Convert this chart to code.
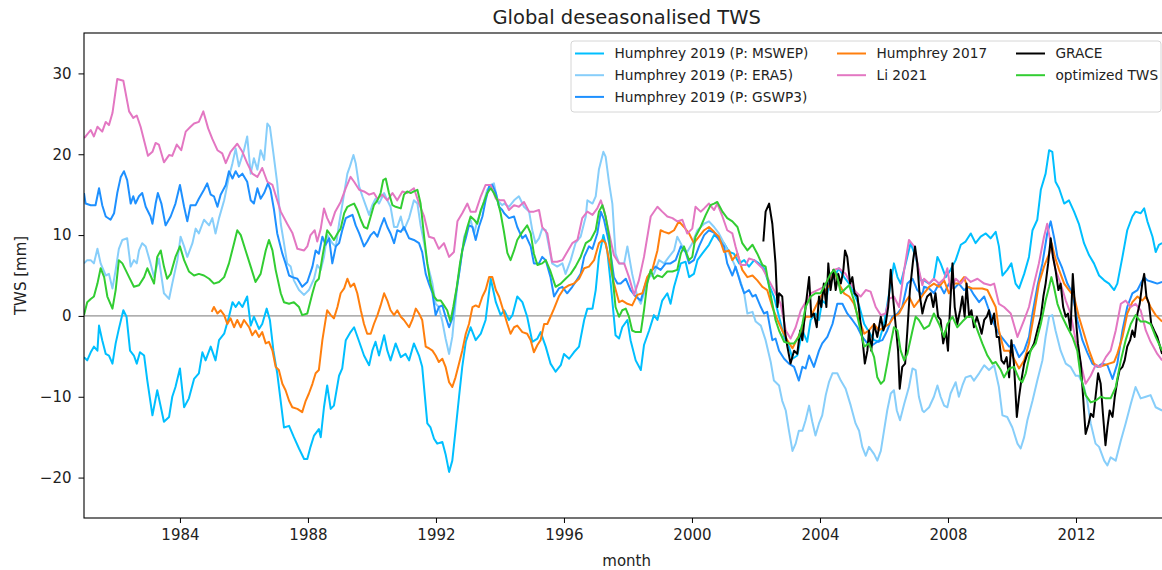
<!DOCTYPE html>
<html>
<head>
<meta charset="utf-8">
<script src="https://cdn.jsdelivr.net/npm/d3@7"></script>
<style>
  body { margin: 0; background: #fff; }
  svg { display: block; font-family: 'DejaVu Sans', sans-serif; }
</style>
</head>
<body>
<div id="wrapper"></div>
<script>
// values: [decimal year, TWS mm]
const mswep = [[1981.0,-5.1],[1981.1,-5.5],[1981.21,-4.5],[1981.31,-3.8],[1981.42,-4.3],[1981.47,-1.2],[1981.57,-3.0],[1981.68,-4.7],[1981.78,-4.9],[1981.89,-5.9],[1981.99,-3.4],[1982.09,-1.6],[1982.23,0.7],[1982.33,-0.1],[1982.44,-4.3],[1982.56,-4.9],[1982.65,-5.9],[1982.75,-4.5],[1982.88,-4.9],[1982.98,-8.0],[1983.14,-12.3],[1983.29,-9.2],[1983.5,-13.1],[1983.66,-12.5],[1983.76,-10.0],[1983.86,-8.8],[1984.0,-6.5],[1984.13,-11.3],[1984.28,-10.2],[1984.44,-7.8],[1984.59,-7.1],[1984.7,-4.5],[1984.8,-5.5],[1984.96,-3.8],[1985.11,-5.5],[1985.22,-3.0],[1985.38,-2.2],[1985.53,-0.1],[1985.64,1.7],[1985.74,1.1],[1985.84,1.7],[1985.95,1.1],[1986.1,2.4],[1986.21,-1.2],[1986.31,-0.1],[1986.47,-1.6],[1986.57,-1.0],[1986.71,0.9],[1986.81,-0.5],[1986.92,-4.3],[1987.04,-7.1],[1987.25,-13.8],[1987.41,-13.6],[1987.56,-15.0],[1987.72,-16.4],[1987.88,-17.7],[1987.98,-17.7],[1988.08,-16.2],[1988.19,-14.8],[1988.34,-14.0],[1988.4,-15.0],[1988.5,-11.3],[1988.6,-8.6],[1988.71,-11.5],[1988.81,-11.1],[1988.97,-7.4],[1989.07,-6.5],[1989.18,-3.0],[1989.33,-2.0],[1989.44,-1.4],[1989.6,-3.2],[1989.75,-4.9],[1989.91,-6.1],[1990.01,-4.3],[1990.11,-3.2],[1990.22,-4.9],[1990.38,-2.4],[1990.48,-4.3],[1990.58,-5.5],[1990.74,-3.4],[1990.9,-5.1],[1991.05,-4.7],[1991.16,-5.5],[1991.31,-3.4],[1991.47,-4.9],[1991.57,-6.3],[1991.73,-13.3],[1991.83,-13.8],[1991.94,-15.2],[1992.04,-15.8],[1992.2,-15.6],[1992.3,-17.1],[1992.41,-19.3],[1992.51,-17.9],[1992.61,-14.2],[1992.72,-10.0],[1992.82,-6.3],[1992.93,-3.2],[1993.08,-1.4],[1993.24,-3.0],[1993.4,-2.2],[1993.55,-0.5],[1993.71,4.6],[1993.87,1.7],[1994.02,0.1],[1994.13,0.7],[1994.28,-0.5],[1994.39,0.1],[1994.54,2.4],[1994.7,1.7],[1994.85,-0.1],[1995.01,-3.2],[1995.17,-2.8],[1995.27,-2.0],[1995.43,-3.8],[1995.58,-5.9],[1995.74,-6.9],[1995.9,-6.1],[1996.0,-4.7],[1996.16,-5.3],[1996.31,-4.5],[1996.47,-3.8],[1996.63,-0.5],[1996.73,0.9],[1996.89,0.9],[1996.99,3.2],[1997.09,7.3],[1997.23,10.0],[1997.35,8.1],[1997.46,4.0],[1997.61,-2.4],[1997.72,-2.8],[1997.82,-1.4],[1997.98,-0.5],[1998.08,-3.0],[1998.24,-5.5],[1998.4,-6.7],[1998.5,-3.6],[1998.66,-1.8],[1998.81,0.1],[1998.92,-0.5],[1999.07,1.9],[1999.23,2.8],[1999.33,1.5],[1999.44,3.6],[1999.54,5.0],[1999.65,6.5],[1999.8,6.7],[1999.91,4.8],[2000.06,5.2],[2000.17,6.9],[2000.32,7.7],[2000.53,8.8],[2000.69,10.0],[2000.84,9.6],[2001.0,9.0],[2001.16,7.9],[2001.31,7.7],[2001.47,6.5],[2001.63,6.9],[2001.78,6.1],[2001.94,6.9],[2002.09,6.5],[2002.25,5.9],[2002.41,3.8],[2002.56,2.4],[2002.72,-0.1],[2002.88,-2.6],[2003.03,-3.8],[2003.14,-5.3],[2003.29,-4.9],[2003.45,-1.8],[2003.6,-3.2],[2003.71,-0.5],[2003.86,0.3],[2003.97,-0.5],[2004.07,1.9],[2004.18,1.5],[2004.28,4.0],[2004.44,4.8],[2004.59,5.9],[2004.75,4.8],[2004.91,4.0],[2005.06,2.8],[2005.22,1.3],[2005.38,-1.0],[2005.53,-2.0],[2005.69,-3.0],[2005.84,-3.2],[2006.0,-1.0],[2006.16,2.8],[2006.31,6.5],[2006.42,4.8],[2006.52,4.0],[2006.68,6.5],[2006.83,9.0],[2006.99,7.3],[2007.15,4.4],[2007.25,4.4],[2007.41,4.0],[2007.56,4.6],[2007.67,7.3],[2007.77,6.5],[2007.93,4.8],[2008.08,5.7],[2008.24,6.9],[2008.4,8.8],[2008.55,9.2],[2008.71,10.2],[2008.86,9.0],[2009.02,9.8],[2009.18,10.2],[2009.33,9.6],[2009.49,10.4],[2009.59,8.6],[2009.7,5.0],[2009.85,5.7],[2009.98,6.5],[2010.11,4.0],[2010.22,3.4],[2010.38,5.2],[2010.53,7.3],[2010.64,10.6],[2010.79,11.9],[2010.9,15.6],[2011.05,17.6],[2011.16,20.5],[2011.26,20.3],[2011.36,16.6],[2011.47,15.8],[2011.63,13.9],[2011.78,14.3],[2011.94,12.9],[2012.09,11.4],[2012.25,9.0],[2012.41,7.5],[2012.56,6.5],[2012.72,5.0],[2012.88,4.4],[2013.03,4.0],[2013.19,3.2],[2013.29,4.0],[2013.45,7.3],[2013.6,10.6],[2013.76,12.3],[2013.86,12.9],[2014.02,12.7],[2014.13,13.3],[2014.23,11.7],[2014.39,9.8],[2014.49,7.9],[2014.59,8.8],[2014.69,9.0]];

const era5 = [[1981.0,6.5],[1981.1,6.9],[1981.21,6.9],[1981.31,6.5],[1981.42,8.3],[1981.52,6.5],[1981.68,5.0],[1981.78,5.2],[1981.89,3.4],[1981.99,5.7],[1982.09,8.3],[1982.2,9.4],[1982.35,9.6],[1982.46,6.1],[1982.56,6.9],[1982.65,6.5],[1982.72,8.1],[1982.82,9.0],[1982.93,8.6],[1983.08,6.5],[1983.19,4.8],[1983.34,7.1],[1983.5,2.8],[1983.66,2.1],[1983.76,4.0],[1983.92,6.9],[1984.02,9.8],[1984.13,8.6],[1984.23,7.3],[1984.39,9.0],[1984.49,10.8],[1984.59,10.2],[1984.75,11.9],[1984.91,11.2],[1985.01,12.1],[1985.11,10.2],[1985.22,12.1],[1985.38,14.3],[1985.53,17.2],[1985.64,18.9],[1985.74,20.7],[1985.84,18.5],[1986.0,20.5],[1986.1,22.2],[1986.21,17.6],[1986.31,19.5],[1986.42,18.1],[1986.52,20.5],[1986.63,19.3],[1986.73,23.8],[1986.81,23.4],[1986.92,20.1],[1987.04,16.4],[1987.15,11.4],[1987.25,9.0],[1987.35,6.5],[1987.46,6.1],[1987.56,4.4],[1987.72,3.2],[1987.88,2.6],[1988.03,3.2],[1988.19,4.6],[1988.29,6.3],[1988.4,5.7],[1988.5,7.3],[1988.6,10.0],[1988.76,9.0],[1988.87,8.6],[1988.97,11.4],[1989.07,13.7],[1989.23,17.6],[1989.31,18.5],[1989.42,19.9],[1989.49,18.9],[1989.6,16.0],[1989.7,14.8],[1989.8,13.7],[1989.91,12.5],[1990.01,13.7],[1990.11,14.5],[1990.22,13.9],[1990.38,15.2],[1990.48,14.3],[1990.58,13.5],[1990.69,11.0],[1990.79,11.0],[1990.9,12.3],[1991.0,10.6],[1991.16,12.1],[1991.31,14.3],[1991.42,13.9],[1991.52,11.2],[1991.63,9.0],[1991.73,6.5],[1991.89,4.0],[1991.99,1.5],[1992.09,1.1],[1992.2,-0.7],[1992.3,-2.8],[1992.41,-4.7],[1992.51,-2.6],[1992.56,-0.5],[1992.67,4.0],[1992.77,6.5],[1992.88,9.8],[1992.98,10.8],[1993.08,11.9],[1993.19,10.2],[1993.29,11.7],[1993.45,13.5],[1993.6,15.6],[1993.71,16.2],[1993.81,16.4],[1993.92,14.3],[1994.07,13.7],[1994.13,13.9],[1994.28,13.5],[1994.44,14.3],[1994.59,14.8],[1994.75,13.5],[1994.91,12.9],[1995.01,10.6],[1995.11,9.0],[1995.22,9.6],[1995.32,10.8],[1995.43,10.6],[1995.53,8.6],[1995.63,6.5],[1995.79,6.1],[1995.95,6.5],[1996.05,5.2],[1996.21,6.9],[1996.36,9.0],[1996.52,9.8],[1996.68,12.3],[1996.73,14.3],[1996.89,13.9],[1996.99,14.8],[1997.09,18.1],[1997.23,20.3],[1997.3,19.7],[1997.41,16.4],[1997.51,13.9],[1997.61,7.7],[1997.72,6.5],[1997.88,6.5],[1997.98,8.6],[1998.13,5.2],[1998.29,2.4],[1998.4,1.5],[1998.5,2.8],[1998.66,4.8],[1998.81,5.2],[1998.97,6.9],[1999.13,6.5],[1999.28,7.3],[1999.44,8.1],[1999.54,9.8],[1999.7,8.6],[1999.85,7.9],[2000.01,9.0],[2000.17,10.6],[2000.38,11.4],[2000.53,11.7],[2000.69,11.0],[2000.84,10.2],[2001.0,9.0],[2001.16,7.7],[2001.31,6.5],[2001.47,4.8],[2001.63,2.8],[2001.73,0.3],[2001.89,0.5],[2001.99,-0.7],[2002.15,-1.2],[2002.3,-3.0],[2002.46,-5.7],[2002.56,-8.0],[2002.72,-8.6],[2002.82,-10.5],[2002.93,-11.7],[2003.03,-14.2],[2003.14,-16.7],[2003.24,-15.8],[2003.34,-14.2],[2003.45,-14.2],[2003.55,-12.9],[2003.66,-11.1],[2003.76,-13.1],[2003.86,-14.8],[2003.97,-13.3],[2004.07,-12.3],[2004.18,-9.8],[2004.28,-8.2],[2004.39,-7.1],[2004.54,-7.1],[2004.65,-8.0],[2004.8,-9.0],[2004.96,-11.1],[2005.11,-13.3],[2005.22,-14.2],[2005.32,-16.2],[2005.43,-17.3],[2005.53,-16.2],[2005.69,-17.1],[2005.79,-17.9],[2005.9,-16.7],[2006.0,-14.2],[2006.1,-11.7],[2006.21,-9.6],[2006.31,-9.2],[2006.4,-11.7],[2006.5,-12.9],[2006.63,-10.9],[2006.78,-8.8],[2006.89,-6.5],[2006.99,-6.7],[2007.09,-10.0],[2007.2,-11.7],[2007.25,-11.9],[2007.41,-11.3],[2007.56,-10.0],[2007.67,-8.6],[2007.77,-10.0],[2007.88,-11.1],[2007.98,-11.3],[2008.08,-9.6],[2008.24,-8.2],[2008.34,-10.0],[2008.45,-8.6],[2008.55,-7.6],[2008.71,-7.4],[2008.81,-8.0],[2008.97,-7.1],[2009.13,-6.1],[2009.28,-6.7],[2009.44,-6.1],[2009.59,-8.8],[2009.7,-12.3],[2009.85,-12.5],[2010.01,-13.8],[2010.17,-15.8],[2010.27,-16.4],[2010.38,-15.0],[2010.48,-12.9],[2010.64,-10.5],[2010.79,-8.0],[2010.95,-5.5],[2011.05,-2.6],[2011.16,-0.1],[2011.26,0.1],[2011.36,-1.8],[2011.52,-4.3],[2011.68,-5.9],[2011.83,-6.3],[2011.99,-7.4],[2012.09,-7.4],[2012.25,-8.8],[2012.35,-10.5],[2012.46,-13.3],[2012.61,-15.8],[2012.72,-16.2],[2012.88,-17.9],[2012.98,-18.5],[2013.08,-17.5],[2013.24,-17.9],[2013.4,-15.4],[2013.55,-13.3],[2013.71,-10.9],[2013.86,-8.8],[2014.02,-10.2],[2014.18,-10.0],[2014.33,-9.8],[2014.49,-11.3],[2014.69,-11.7]];

const gswp3 = [[1981.0,15.2],[1981.05,13.9],[1981.21,13.7],[1981.36,13.7],[1981.47,15.8],[1981.57,13.7],[1981.68,12.3],[1981.83,11.9],[1981.94,12.7],[1982.04,15.2],[1982.15,17.2],[1982.25,17.9],[1982.35,16.8],[1982.46,13.9],[1982.54,14.8],[1982.61,13.9],[1982.72,14.8],[1982.82,15.2],[1982.93,13.5],[1983.08,12.3],[1983.14,11.4],[1983.24,13.9],[1983.31,15.2],[1983.42,13.9],[1983.55,11.2],[1983.71,12.3],[1983.86,13.9],[1984.0,16.2],[1984.13,13.5],[1984.23,11.7],[1984.33,13.7],[1984.49,13.7],[1984.59,14.5],[1984.75,15.6],[1984.85,16.4],[1984.96,15.0],[1985.06,14.8],[1985.17,13.5],[1985.27,15.0],[1985.43,16.2],[1985.53,17.9],[1985.64,17.0],[1985.74,17.9],[1985.84,17.2],[1985.95,17.6],[1986.1,16.6],[1986.21,14.3],[1986.31,13.9],[1986.42,15.8],[1986.52,14.5],[1986.63,15.2],[1986.75,16.4],[1986.83,15.6],[1986.94,13.1],[1987.04,10.2],[1987.2,7.7],[1987.3,6.5],[1987.41,5.0],[1987.51,4.8],[1987.67,4.6],[1987.82,3.6],[1987.98,4.2],[1988.14,6.1],[1988.24,8.1],[1988.34,7.7],[1988.45,9.8],[1988.55,8.8],[1988.66,9.6],[1988.76,6.5],[1988.87,8.6],[1988.97,9.0],[1989.07,10.6],[1989.18,12.1],[1989.28,12.3],[1989.39,12.5],[1989.49,11.2],[1989.6,10.2],[1989.75,8.6],[1989.85,9.2],[1989.96,10.0],[1990.06,10.4],[1990.17,9.8],[1990.27,11.0],[1990.38,12.1],[1990.48,11.0],[1990.58,10.2],[1990.69,9.0],[1990.79,10.6],[1990.9,10.4],[1991.0,11.0],[1991.16,9.6],[1991.31,9.4],[1991.47,9.0],[1991.57,7.9],[1991.68,5.2],[1991.78,4.0],[1991.89,2.8],[1991.99,0.1],[1992.09,1.1],[1992.2,1.3],[1992.3,-0.1],[1992.41,-1.4],[1992.51,-0.3],[1992.61,2.4],[1992.72,5.2],[1992.82,8.1],[1992.93,9.6],[1993.03,11.2],[1993.14,11.0],[1993.24,9.4],[1993.34,11.0],[1993.45,12.3],[1993.55,14.3],[1993.66,16.0],[1993.76,16.2],[1993.87,15.2],[1993.97,13.5],[1994.07,13.1],[1994.13,12.7],[1994.28,12.1],[1994.44,12.3],[1994.54,11.0],[1994.7,9.6],[1994.8,10.0],[1994.96,8.6],[1995.06,6.5],[1995.22,6.5],[1995.32,7.3],[1995.43,6.9],[1995.58,4.8],[1995.69,2.4],[1995.84,3.4],[1995.95,3.6],[1996.1,2.8],[1996.26,3.6],[1996.36,4.2],[1996.52,5.2],[1996.63,7.3],[1996.78,8.6],[1996.89,8.3],[1997.04,10.2],[1997.15,12.9],[1997.25,11.9],[1997.41,9.0],[1997.56,4.8],[1997.67,4.0],[1997.77,4.0],[1997.93,4.6],[1998.08,3.2],[1998.24,2.4],[1998.4,1.9],[1998.55,4.0],[1998.71,5.5],[1998.86,6.1],[1999.02,5.7],[1999.18,6.5],[1999.33,6.5],[1999.49,6.9],[1999.65,8.6],[1999.8,7.9],[1999.91,6.5],[2000.06,6.9],[2000.22,8.6],[2000.38,10.0],[2000.53,10.6],[2000.69,10.3],[2000.84,9.4],[2001.0,8.6],[2001.1,6.5],[2001.26,5.0],[2001.36,6.1],[2001.52,4.0],[2001.63,2.8],[2001.78,3.2],[2001.89,2.4],[2001.99,2.6],[2002.15,1.1],[2002.25,0.3],[2002.35,0.5],[2002.51,-3.0],[2002.61,-2.8],[2002.72,-4.3],[2002.88,-5.3],[2003.03,-5.9],[2003.19,-6.3],[2003.34,-8.0],[2003.45,-6.3],[2003.55,-6.5],[2003.66,-4.9],[2003.81,-6.3],[2003.97,-4.3],[2004.07,-3.4],[2004.23,-2.6],[2004.39,-1.0],[2004.54,1.5],[2004.7,1.5],[2004.85,0.3],[2005.01,-0.5],[2005.17,-1.4],[2005.32,-2.6],[2005.48,-3.4],[2005.64,-3.6],[2005.79,-3.2],[2005.95,-3.0],[2006.1,-1.8],[2006.26,-0.1],[2006.42,0.3],[2006.57,1.1],[2006.73,4.0],[2006.89,4.6],[2007.04,3.2],[2007.2,2.6],[2007.25,3.6],[2007.41,3.4],[2007.56,2.8],[2007.72,4.0],[2007.88,2.8],[2008.03,4.0],[2008.19,3.4],[2008.34,4.0],[2008.5,3.2],[2008.66,3.6],[2008.81,2.6],[2008.97,1.7],[2009.13,2.4],[2009.28,0.7],[2009.44,-1.0],[2009.59,-2.2],[2009.75,-3.0],[2009.91,-3.8],[2010.06,-3.6],[2010.22,-5.1],[2010.38,-4.3],[2010.53,-2.6],[2010.64,0.3],[2010.79,3.6],[2010.95,6.5],[2011.1,10.2],[2011.21,11.7],[2011.31,9.8],[2011.42,7.3],[2011.57,5.9],[2011.73,4.0],[2011.89,2.8],[2012.04,-0.5],[2012.2,-3.0],[2012.35,-4.5],[2012.51,-5.9],[2012.67,-6.3],[2012.82,-5.9],[2012.98,-6.1],[2013.14,-7.8],[2013.29,-5.9],[2013.45,-1.8],[2013.6,1.1],[2013.76,2.8],[2013.92,3.2],[2014.02,4.0],[2014.13,4.8],[2014.23,4.4],[2014.39,4.2],[2014.54,4.0],[2014.69,4.2]];

const humphrey2017 = [[1984.99,0.5],[1985.06,1.1],[1985.17,0.3],[1985.27,0.7],[1985.38,0.1],[1985.48,-1.0],[1985.58,-0.3],[1985.69,-1.4],[1985.79,-0.5],[1985.9,-1.4],[1986.0,-0.5],[1986.16,-1.4],[1986.26,-2.4],[1986.36,-1.8],[1986.47,-2.6],[1986.57,-2.0],[1986.68,-3.4],[1986.78,-3.2],[1986.89,-4.3],[1986.99,-6.3],[1987.09,-6.7],[1987.2,-8.4],[1987.3,-9.2],[1987.41,-10.5],[1987.51,-11.3],[1987.67,-11.5],[1987.82,-11.9],[1987.93,-10.5],[1988.03,-9.6],[1988.14,-8.4],[1988.24,-7.1],[1988.34,-6.7],[1988.45,-3.0],[1988.55,-0.5],[1988.6,0.7],[1988.71,0.1],[1988.81,-0.3],[1988.92,1.1],[1989.02,2.8],[1989.13,3.4],[1989.23,4.6],[1989.33,3.6],[1989.44,4.0],[1989.54,2.8],[1989.65,0.7],[1989.75,-1.0],[1989.85,-2.2],[1989.96,-2.2],[1990.06,-1.0],[1990.17,0.1],[1990.27,1.3],[1990.38,2.8],[1990.48,1.9],[1990.58,0.7],[1990.69,0.1],[1990.79,0.7],[1990.9,-0.1],[1991.0,-0.5],[1991.16,-1.4],[1991.26,-0.5],[1991.37,0.9],[1991.47,0.3],[1991.57,-0.5],[1991.68,-3.8],[1991.78,-4.0],[1991.89,-4.3],[1991.99,-4.9],[1992.09,-5.7],[1992.2,-5.3],[1992.3,-6.3],[1992.41,-8.2],[1992.51,-8.8],[1992.61,-7.6],[1992.72,-5.9],[1992.82,-4.3],[1992.93,-2.2],[1993.03,-1.0],[1993.14,1.1],[1993.24,1.3],[1993.34,1.1],[1993.45,2.4],[1993.55,3.2],[1993.66,4.8],[1993.76,4.8],[1993.87,3.2],[1993.97,2.4],[1994.07,1.1],[1994.23,-1.0],[1994.33,-2.2],[1994.44,-1.4],[1994.54,-1.2],[1994.7,-2.0],[1994.85,-2.2],[1994.96,-3.0],[1995.06,-4.5],[1995.17,-3.6],[1995.27,-3.0],[1995.38,-1.0],[1995.48,-1.0],[1995.58,-0.1],[1995.69,0.9],[1995.84,2.4],[1996.0,3.4],[1996.16,3.8],[1996.31,4.0],[1996.47,4.6],[1996.63,5.9],[1996.78,6.1],[1996.94,6.9],[1997.09,9.0],[1997.2,9.4],[1997.3,9.0],[1997.41,6.9],[1997.56,4.0],[1997.72,1.7],[1997.82,1.9],[1997.98,1.5],[1998.13,1.3],[1998.29,2.6],[1998.45,2.8],[1998.6,4.8],[1998.76,5.7],[1998.92,8.1],[1999.02,10.6],[1999.13,10.4],[1999.28,10.2],[1999.44,10.6],[1999.59,11.7],[1999.75,11.0],[1999.91,10.2],[2000.06,9.0],[2000.22,9.8],[2000.38,10.6],[2000.53,11.0],[2000.69,10.4],[2000.84,9.8],[2001.0,7.9],[2001.16,8.1],[2001.26,6.9],[2001.42,7.7],[2001.57,5.7],[2001.73,4.8],[2001.89,5.0],[2002.04,4.4],[2002.2,3.6],[2002.35,3.2],[2002.51,1.1],[2002.67,-0.5],[2002.82,-1.8],[2002.98,-3.0],[2003.14,-4.0],[2003.24,-3.2],[2003.4,-2.0],[2003.55,-0.1],[2003.71,-0.1],[2003.86,1.1],[2004.02,2.4],[2004.18,3.2],[2004.33,4.0],[2004.44,5.7],[2004.59,4.0],[2004.75,2.8],[2004.91,2.4],[2005.06,1.5],[2005.22,-0.5],[2005.38,-2.2],[2005.53,-1.8],[2005.69,-1.0],[2005.84,-1.8],[2006.0,-1.4],[2006.16,-1.0],[2006.31,-0.1],[2006.47,0.3],[2006.63,1.5],[2006.78,2.4],[2006.94,1.1],[2007.09,1.9],[2007.25,2.8],[2007.41,3.6],[2007.56,4.0],[2007.72,3.6],[2007.88,4.4],[2008.03,2.8],[2008.19,4.0],[2008.34,4.0],[2008.5,4.8],[2008.6,3.6],[2008.76,3.4],[2008.92,3.4],[2009.07,3.4],[2009.23,3.2],[2009.39,1.9],[2009.49,1.1],[2009.59,-1.8],[2009.75,-4.3],[2009.91,-4.3],[2010.06,-5.3],[2010.22,-6.5],[2010.38,-5.5],[2010.53,-3.4],[2010.69,0.3],[2010.84,4.0],[2011.0,6.1],[2011.16,7.7],[2011.24,9.0],[2011.34,7.3],[2011.47,5.7],[2011.63,4.0],[2011.78,3.2],[2011.94,2.4],[2012.09,-0.1],[2012.25,-2.2],[2012.41,-4.3],[2012.56,-5.9],[2012.72,-6.3],[2012.88,-6.1],[2013.03,-5.9],[2013.19,-5.7],[2013.29,-4.7],[2013.45,-2.6],[2013.6,0.3],[2013.76,1.7],[2013.92,2.4],[2014.07,1.9],[2014.18,2.4],[2014.33,1.1],[2014.49,0.1],[2014.69,-0.7]];

const li2021 = [[1981.0,22.0],[1981.05,22.2],[1981.21,23.0],[1981.31,22.2],[1981.42,23.4],[1981.57,22.8],[1981.68,24.0],[1981.78,23.6],[1981.89,25.1],[1982.04,29.3],[1982.23,29.1],[1982.41,25.3],[1982.54,24.5],[1982.65,24.8],[1982.77,23.4],[1983.0,19.8],[1983.14,20.3],[1983.24,21.4],[1983.34,21.2],[1983.5,19.0],[1983.66,19.9],[1983.76,19.8],[1983.9,21.2],[1984.04,20.5],[1984.18,22.8],[1984.33,23.4],[1984.44,23.8],[1984.59,24.0],[1984.73,25.3],[1984.88,23.2],[1985.01,21.9],[1985.17,20.5],[1985.32,20.1],[1985.43,18.9],[1985.58,20.3],[1985.79,21.3],[1985.95,20.3],[1986.1,18.9],[1986.26,17.6],[1986.42,17.2],[1986.57,18.3],[1986.73,16.6],[1986.89,16.2],[1987.15,12.9],[1987.35,11.4],[1987.51,10.3],[1987.67,8.3],[1987.88,8.1],[1987.98,8.6],[1988.08,10.0],[1988.21,10.6],[1988.29,9.2],[1988.4,10.8],[1988.5,13.3],[1988.6,12.1],[1988.71,11.2],[1988.85,12.9],[1989.02,14.1],[1989.18,15.8],[1989.33,17.2],[1989.44,16.6],[1989.6,15.6],[1989.75,15.4],[1989.91,15.0],[1990.06,15.2],[1990.17,14.5],[1990.32,15.0],[1990.48,14.3],[1990.64,15.2],[1990.79,14.3],[1990.95,15.4],[1991.1,15.2],[1991.31,15.8],[1991.47,13.9],[1991.63,12.3],[1991.78,9.8],[1991.94,9.6],[1992.09,8.3],[1992.25,9.0],[1992.41,7.3],[1992.56,7.9],[1992.67,11.7],[1992.82,12.7],[1992.98,13.9],[1993.08,12.9],[1993.24,12.9],[1993.4,14.8],[1993.55,16.2],[1993.71,16.2],[1993.87,14.5],[1994.02,14.3],[1994.13,14.3],[1994.28,13.1],[1994.44,13.7],[1994.59,13.5],[1994.75,14.1],[1994.91,12.9],[1995.06,12.9],[1995.22,13.1],[1995.32,11.0],[1995.48,10.2],[1995.63,6.7],[1995.79,6.7],[1995.95,6.9],[1996.1,7.9],[1996.26,9.0],[1996.42,9.4],[1996.57,12.1],[1996.73,12.9],[1996.89,12.5],[1997.04,13.3],[1997.15,14.3],[1997.25,13.1],[1997.41,10.2],[1997.56,7.5],[1997.72,6.5],[1997.88,6.5],[1998.03,4.8],[1998.19,2.6],[1998.34,4.4],[1998.5,7.3],[1998.71,12.3],[1998.92,13.5],[1999.07,12.9],[1999.23,12.3],[1999.39,12.1],[1999.54,11.7],[1999.7,11.9],[1999.85,10.2],[2000.01,10.8],[2000.11,13.5],[2000.27,12.9],[2000.38,13.3],[2000.53,13.9],[2000.69,13.1],[2000.79,13.9],[2000.95,12.3],[2001.1,10.6],[2001.26,10.2],[2001.36,8.6],[2001.52,6.3],[2001.68,6.3],[2001.78,7.1],[2001.94,6.9],[2002.04,6.5],[2002.2,5.9],[2002.35,4.8],[2002.56,3.2],[2002.77,1.5],[2002.93,-1.8],[2003.08,-2.8],[2003.24,-1.4],[2003.4,0.7],[2003.55,1.7],[2003.71,2.8],[2003.92,3.2],[2004.13,3.6],[2004.28,4.6],[2004.44,5.7],[2004.59,5.9],[2004.8,5.2],[2004.96,4.0],[2005.11,3.0],[2005.27,2.4],[2005.43,3.2],[2005.58,3.0],[2005.74,1.1],[2005.9,0.1],[2006.05,0.3],[2006.16,2.1],[2006.31,2.4],[2006.47,1.1],[2006.63,5.7],[2006.78,9.4],[2006.94,8.6],[2007.09,5.7],[2007.2,3.8],[2007.25,4.6],[2007.41,4.0],[2007.56,4.6],[2007.72,4.0],[2007.88,4.6],[2007.98,5.9],[2008.08,3.2],[2008.24,4.6],[2008.4,4.0],[2008.55,4.8],[2008.71,4.2],[2008.92,4.6],[2009.13,4.0],[2009.33,3.8],[2009.44,4.0],[2009.59,1.5],[2009.75,1.1],[2009.96,0.3],[2010.17,-2.6],[2010.38,-0.5],[2010.53,1.1],[2010.69,4.0],[2010.84,6.5],[2011.0,9.8],[2011.1,11.4],[2011.21,9.0],[2011.36,5.7],[2011.52,4.0],[2011.68,1.9],[2011.83,0.3],[2011.99,-3.0],[2012.15,-5.9],[2012.3,-8.4],[2012.46,-7.4],[2012.61,-6.1],[2012.77,-6.3],[2012.93,-5.1],[2013.08,-4.3],[2013.24,-1.8],[2013.4,1.5],[2013.55,1.9],[2013.71,1.1],[2013.86,1.5],[2014.02,0.7],[2014.18,-1.8],[2014.33,-3.2],[2014.54,-4.7],[2014.69,-5.5]];

const grace = [[2002.23,9.2],[2002.3,12.9],[2002.41,13.9],[2002.51,11.4],[2002.61,6.5],[2002.67,1.1],[2002.72,2.8],[2002.82,2.4],[2002.9,-1.8],[2002.98,-3.8],[2003.08,-5.9],[2003.19,-4.3],[2003.29,-4.7],[2003.38,-1.8],[2003.45,-3.0],[2003.55,1.1],[2003.66,4.8],[2003.73,-0.1],[2003.81,0.3],[2003.9,-1.4],[2003.97,2.4],[2004.04,1.1],[2004.12,4.0],[2004.2,1.1],[2004.26,6.5],[2004.33,3.2],[2004.42,5.7],[2004.49,3.2],[2004.57,5.2],[2004.65,4.0],[2004.73,5.7],[2004.78,8.1],[2004.85,7.3],[2004.94,4.0],[2005.01,4.8],[2005.08,2.8],[2005.17,2.4],[2005.27,-1.0],[2005.34,-3.4],[2005.4,-5.9],[2005.48,-4.3],[2005.53,-1.8],[2005.6,-4.3],[2005.69,-1.0],[2005.79,-2.6],[2005.9,-0.1],[2005.98,-1.8],[2006.05,-1.0],[2006.13,1.1],[2006.21,5.7],[2006.28,2.4],[2006.36,-1.0],[2006.44,-4.3],[2006.49,-9.0],[2006.57,-6.3],[2006.66,-5.9],[2006.73,-1.8],[2006.81,3.2],[2006.91,6.9],[2006.97,8.6],[2007.04,6.5],[2007.11,2.8],[2007.2,0.3],[2007.27,1.5],[2007.35,2.4],[2007.46,2.8],[2007.54,1.1],[2007.61,2.8],[2007.69,-0.1],[2007.77,-0.5],[2007.85,-3.4],[2007.93,-1.8],[2008.0,-4.3],[2008.06,0.7],[2008.14,6.5],[2008.21,1.1],[2008.29,-1.0],[2008.38,0.7],[2008.45,2.4],[2008.52,-0.1],[2008.58,4.0],[2008.66,-0.1],[2008.73,0.7],[2008.81,-1.4],[2008.9,-0.1],[2008.97,-1.0],[2009.05,-2.2],[2009.13,-0.5],[2009.21,-0.1],[2009.28,0.7],[2009.35,-1.0],[2009.44,0.3],[2009.52,-2.6],[2009.59,-2.6],[2009.67,-5.5],[2009.75,-5.9],[2009.83,-5.1],[2009.91,-7.6],[2009.98,-3.0],[2010.06,-5.9],[2010.15,-12.5],[2010.22,-10.0],[2010.29,-8.0],[2010.38,-5.9],[2010.48,-4.7],[2010.58,-4.3],[2010.69,-3.4],[2010.79,-1.8],[2010.9,-0.1],[2010.98,2.4],[2011.05,4.0],[2011.13,6.5],[2011.21,9.6],[2011.28,7.3],[2011.36,5.7],[2011.45,3.2],[2011.52,4.0],[2011.6,1.1],[2011.68,-0.1],[2011.75,0.3],[2011.83,-1.8],[2011.9,5.2],[2011.99,-0.1],[2012.06,-3.4],[2012.15,-5.9],[2012.23,-10.5],[2012.3,-14.6],[2012.39,-13.4],[2012.46,-12.1],[2012.54,-12.5],[2012.61,-10.0],[2012.69,-7.1],[2012.77,-8.4],[2012.84,-12.1],[2012.92,-16.0],[2012.98,-13.8],[2013.05,-11.7],[2013.14,-12.5],[2013.21,-10.0],[2013.29,-8.0],[2013.36,-6.7],[2013.45,-6.3],[2013.52,-5.5],[2013.6,-3.8],[2013.69,-3.0],[2013.76,-1.8],[2013.83,-2.6],[2013.92,0.3],[2013.99,1.5],[2014.07,4.0],[2014.13,5.2],[2014.2,2.4],[2014.28,1.5],[2014.35,-1.0],[2014.44,-1.8],[2014.54,-2.6],[2014.69,-4.7]];

const optimizedTws = [[1981.0,0.1],[1981.1,1.7],[1981.21,2.1],[1981.31,2.4],[1981.42,4.0],[1981.52,5.9],[1981.63,4.8],[1981.73,2.4],[1981.89,0.9],[1981.99,3.2],[1982.09,6.9],[1982.2,6.5],[1982.3,5.7],[1982.41,4.8],[1982.56,3.6],[1982.72,3.8],[1982.88,4.8],[1982.98,5.9],[1983.08,5.0],[1983.19,4.0],[1983.29,7.3],[1983.4,8.1],[1983.5,6.1],[1983.6,4.6],[1983.71,5.2],[1983.86,7.3],[1984.0,8.6],[1984.13,6.9],[1984.28,5.5],[1984.44,5.0],[1984.59,5.2],[1984.75,5.0],[1984.91,4.6],[1985.06,4.0],[1985.22,4.2],[1985.38,4.8],[1985.53,6.5],[1985.69,9.0],[1985.79,10.6],[1985.9,10.0],[1986.05,8.1],[1986.21,6.1],[1986.36,4.2],[1986.52,5.2],[1986.68,8.1],[1986.78,9.4],[1986.89,8.1],[1986.99,5.7],[1987.15,2.8],[1987.25,1.7],[1987.41,1.5],[1987.56,1.7],[1987.72,1.1],[1987.82,0.1],[1987.98,0.3],[1988.14,2.8],[1988.24,4.2],[1988.34,4.6],[1988.45,7.3],[1988.6,10.6],[1988.71,10.0],[1988.81,9.4],[1988.92,10.2],[1989.02,10.8],[1989.13,12.7],[1989.23,13.5],[1989.33,13.7],[1989.44,13.9],[1989.54,13.1],[1989.65,11.9],[1989.75,11.0],[1989.85,10.8],[1989.96,12.3],[1990.06,13.7],[1990.17,14.3],[1990.27,15.2],[1990.35,16.8],[1990.43,17.0],[1990.53,15.2],[1990.64,13.7],[1990.74,13.5],[1990.9,13.3],[1991.0,15.0],[1991.1,15.4],[1991.21,15.2],[1991.31,15.4],[1991.42,15.6],[1991.52,13.9],[1991.63,9.8],[1991.73,6.5],[1991.83,4.0],[1991.94,2.4],[1992.04,1.9],[1992.15,1.9],[1992.25,1.3],[1992.35,0.7],[1992.45,-0.7],[1992.54,1.1],[1992.65,3.6],[1992.75,6.5],[1992.88,9.4],[1992.98,11.0],[1993.08,12.3],[1993.19,11.9],[1993.29,11.4],[1993.4,13.1],[1993.5,14.1],[1993.6,15.2],[1993.71,15.8],[1993.81,15.2],[1993.92,14.3],[1994.02,12.7],[1994.12,10.5],[1994.23,7.8],[1994.33,6.9],[1994.44,8.1],[1994.54,9.4],[1994.7,10.4],[1994.85,11.2],[1994.96,10.2],[1995.06,7.7],[1995.17,6.3],[1995.32,6.5],[1995.43,6.9],[1995.58,5.5],[1995.74,3.6],[1995.9,4.0],[1996.05,4.6],[1996.21,5.2],[1996.36,6.1],[1996.52,7.3],[1996.68,9.0],[1996.83,9.4],[1996.99,10.6],[1997.09,12.9],[1997.2,13.7],[1997.3,12.3],[1997.41,9.8],[1997.51,5.2],[1997.61,1.1],[1997.72,-0.1],[1997.82,0.7],[1997.93,0.9],[1998.03,-0.1],[1998.13,-1.8],[1998.24,-2.0],[1998.4,-2.0],[1998.5,0.7],[1998.6,4.0],[1998.71,5.7],[1998.81,4.6],[1998.92,5.0],[1999.07,4.8],[1999.23,5.5],[1999.39,5.5],[1999.54,5.7],[1999.65,7.7],[1999.75,8.6],[1999.91,6.9],[2000.01,7.3],[2000.11,9.8],[2000.27,11.0],[2000.43,12.5],[2000.58,13.7],[2000.69,13.9],[2000.79,14.1],[2000.95,12.9],[2001.1,12.1],[2001.26,11.7],[2001.42,11.0],[2001.57,9.0],[2001.73,8.1],[2001.89,8.8],[2002.04,7.7],[2002.2,6.3],[2002.3,6.1],[2002.41,3.6],[2002.51,1.5],[2002.61,-0.5],[2002.72,-1.8],[2002.88,-3.2],[2003.03,-3.4],[2003.19,-3.4],[2003.34,-2.6],[2003.45,-1.0],[2003.55,1.1],[2003.71,2.4],[2003.86,2.8],[2004.02,2.8],[2004.18,4.0],[2004.33,5.2],[2004.44,5.7],[2004.54,4.8],[2004.65,2.8],[2004.8,3.4],[2004.91,3.8],[2005.06,1.9],[2005.22,-1.0],[2005.38,-3.8],[2005.53,-3.4],[2005.69,-5.1],[2005.79,-7.6],[2005.9,-8.4],[2006.0,-8.0],[2006.1,-5.9],[2006.21,-3.4],[2006.31,-1.4],[2006.42,-1.8],[2006.52,-4.3],[2006.63,-5.5],[2006.73,-4.7],[2006.89,-1.8],[2006.99,-0.1],[2007.09,-0.5],[2007.25,-1.6],[2007.41,-1.2],[2007.56,0.3],[2007.72,-1.0],[2007.88,-2.6],[2007.98,-1.0],[2008.14,-0.1],[2008.29,-1.4],[2008.45,-0.7],[2008.6,-0.1],[2008.76,-0.1],[2008.92,-1.8],[2009.07,-3.4],[2009.23,-4.9],[2009.39,-5.9],[2009.49,-5.7],[2009.65,-6.7],[2009.75,-7.6],[2009.91,-6.5],[2010.06,-6.3],[2010.22,-7.8],[2010.32,-8.2],[2010.43,-7.1],[2010.58,-4.3],[2010.74,-3.4],[2010.9,-1.0],[2011.05,1.9],[2011.16,3.6],[2011.23,4.8],[2011.31,3.6],[2011.42,1.5],[2011.57,-0.1],[2011.73,-1.4],[2011.89,-2.6],[2012.04,-4.3],[2012.15,-7.6],[2012.3,-9.8],[2012.46,-10.7],[2012.61,-10.5],[2012.77,-10.0],[2012.93,-10.2],[2013.08,-10.2],[2013.24,-8.8],[2013.4,-5.5],[2013.55,-3.0],[2013.71,-1.0],[2013.86,0.1],[2014.02,-0.7],[2014.18,-0.7],[2014.33,-1.0],[2014.49,-2.6],[2014.69,-4.3]];

const seriesLabels = ['Humphrey 2019 (P: MSWEP)', 'Humphrey 2019 (P: ERA5)', 'Humphrey 2019 (P: GSWP3)', 'Humphrey 2017', 'Li 2021', 'GRACE', 'optimized TWS'];
const seriesColors = ['#00bfff', '#87cefa', '#1e90ff', '#ff7f0e', '#e377c2', '#000000', '#32cd32'];
const seriesValues = [mswep, era5, gswp3, humphrey2017, li2021, grace, optimizedTws];
const xTickYears = [1984, 1988, 1992, 1996, 2000, 2004, 2008, 2012];
const yTickValues = [-20, -10, 0, 10, 20, 30];

function drawChart() {
  // 1. Access data

  const yearToDate = (y) => {
    const yr = Math.floor(y);
    const a = new Date(yr, 0, 1);
    const b = new Date(yr + 1, 0, 1);
    return new Date(a.getTime() + (y - yr) * (b - a));
  };
  const xAccessor = (d) => yearToDate(d[0]);
  const yAccessor = (d) => d[1];

  const series = seriesLabels.map((name, i) => ({
    name: name,
    color: seriesColors[i],
    values: seriesValues[i],
  }));

  // 2. Create chart dimensions

  let dimensions = {
    width: 1162,
    height: 570,
    margin: { top: 33, right: -7.3, bottom: 52, left: 84 },
  };
  dimensions.boundedWidth =
    dimensions.width - dimensions.margin.left - dimensions.margin.right;
  dimensions.boundedHeight =
    dimensions.height - dimensions.margin.top - dimensions.margin.bottom;

  // 3. Draw canvas

  const wrapper = d3
    .select('#wrapper')
    .append('svg')
    .attr('width', dimensions.width)
    .attr('height', dimensions.height);

  const bounds = wrapper
    .append('g')
    .attr('transform', `translate(${dimensions.margin.left},${dimensions.margin.top})`);

  bounds
    .append('clipPath')
    .attr('id', 'plot-clip')
    .append('rect')
    .attr('width', dimensions.boundedWidth)
    .attr('height', dimensions.boundedHeight);

  // 4. Create scales

  const xScale = d3
    .scaleTime()
    .domain([new Date(1981, 0, 1), new Date(2014, 11, 1)])
    .range([0, dimensions.boundedWidth]);

  const yScale = d3
    .scaleLinear()
    .domain([-25, 35])
    .range([dimensions.boundedHeight, 0]);

  // 5. Draw data

  bounds
    .append('line')
    .attr('x1', 0)
    .attr('x2', dimensions.boundedWidth)
    .attr('y1', yScale(0))
    .attr('y2', yScale(0))
    .attr('stroke', '#555')
    .attr('stroke-width', 0.8);

  const lineGenerator = d3
    .line()
    .x((d) => xScale(xAccessor(d)))
    .y((d) => yScale(yAccessor(d)));

  bounds
    .append('g')
    .attr('clip-path', 'url(#plot-clip)')
    .selectAll('path')
    .data(series)
    .enter()
    .append('path')
    .attr('d', (d) => lineGenerator(d.values))
    .attr('fill', 'none')
    .attr('stroke', (d) => d.color)
    .attr('stroke-width', 2)
    .attr('stroke-linejoin', 'round');

  // 6. Draw peripherals

  const xAxisGenerator = d3
    .axisBottom(xScale)
    .tickValues(xTickYears.map((y) => new Date(y, 0, 1)))
    .tickFormat(d3.timeFormat('%Y'))
    .tickSize(5)
    .tickPadding(6)
    .tickSizeOuter(0);

  const xAxis = bounds
    .append('g')
    .attr('transform', `translate(0,${dimensions.boundedHeight})`)
    .call(xAxisGenerator);

  const yAxisGenerator = d3
    .axisLeft(yScale)
    .tickValues(yTickValues)
    .tickSize(5.5)
    .tickPadding(7)
    .tickSizeOuter(0);

  const yAxis = bounds.append('g').call(yAxisGenerator);

  [xAxis, yAxis].forEach((axis) => {
    axis.select('.domain').remove();
    axis.selectAll('text').attr('font-size', 15).attr('fill', '#222').attr('font-family', 'DejaVu Sans');
    axis.selectAll('line').attr('stroke', '#000').attr('stroke-width', 1);
  });

  // frame (right spine falls outside the picture)
  bounds
    .append('rect')
    .attr('width', dimensions.boundedWidth)
    .attr('height', dimensions.boundedHeight)
    .attr('fill', 'none')
    .attr('stroke', '#000')
    .attr('stroke-width', 1.1);

  wrapper
    .append('text')
    .attr('x', dimensions.margin.left + dimensions.boundedWidth / 2)
    .attr('y', 24)
    .attr('text-anchor', 'middle')
    .attr('font-size', 19.5)
    .attr('fill', '#222')
    .text('Global deseasonalised TWS');

  wrapper
    .append('text')
    .attr('x', dimensions.margin.left + dimensions.boundedWidth / 2)
    .attr('y', 566)
    .attr('text-anchor', 'middle')
    .attr('font-size', 15)
    .attr('fill', '#222')
    .text('month');

  wrapper
    .append('text')
    .attr('transform', `translate(26,${dimensions.margin.top + dimensions.boundedHeight / 2}) rotate(-90)`)
    .attr('text-anchor', 'middle')
    .attr('font-size', 15)
    .attr('fill', '#222')
    .text('TWS [mm]');

  // legend, 3 columns (3 + 2 + 2 entries)
  const legendBox = { x: 571, y: 41, width: 590, height: 71 };
  const legendCols = [575, 837, 1016];
  const legendRows = [53.5, 75.2, 96.9];

  const legend = wrapper.append('g');
  legend
    .append('rect')
    .attr('x', legendBox.x)
    .attr('y', legendBox.y)
    .attr('width', legendBox.width)
    .attr('height', legendBox.height)
    .attr('rx', 3)
    .attr('fill', 'rgba(255,255,255,0.8)')
    .attr('stroke', '#d6d6d6')
    .attr('stroke-width', 1);

  const items = legend
    .selectAll('.legend-item')
    .data(series)
    .enter()
    .append('g')
    .attr('class', 'legend-item')
    .attr('transform', (d, i) => {
      const col = i < 3 ? 0 : i < 5 ? 1 : 2;
      const row = i < 3 ? i : i < 5 ? i - 3 : i - 5;
      return `translate(${legendCols[col]},${legendRows[row]})`;
    });

  items
    .append('line')
    .attr('x1', 0)
    .attr('x2', 29)
    .attr('stroke', (d) => d.color)
    .attr('stroke-width', 2);

  items
    .append('text')
    .attr('x', 39.5)
    .attr('dy', '0.35em')
    .attr('font-size', 13.7)
    .attr('fill', '#222')
    .text((d) => d.name);
}
drawChart();
</script>
</body>
</html>
